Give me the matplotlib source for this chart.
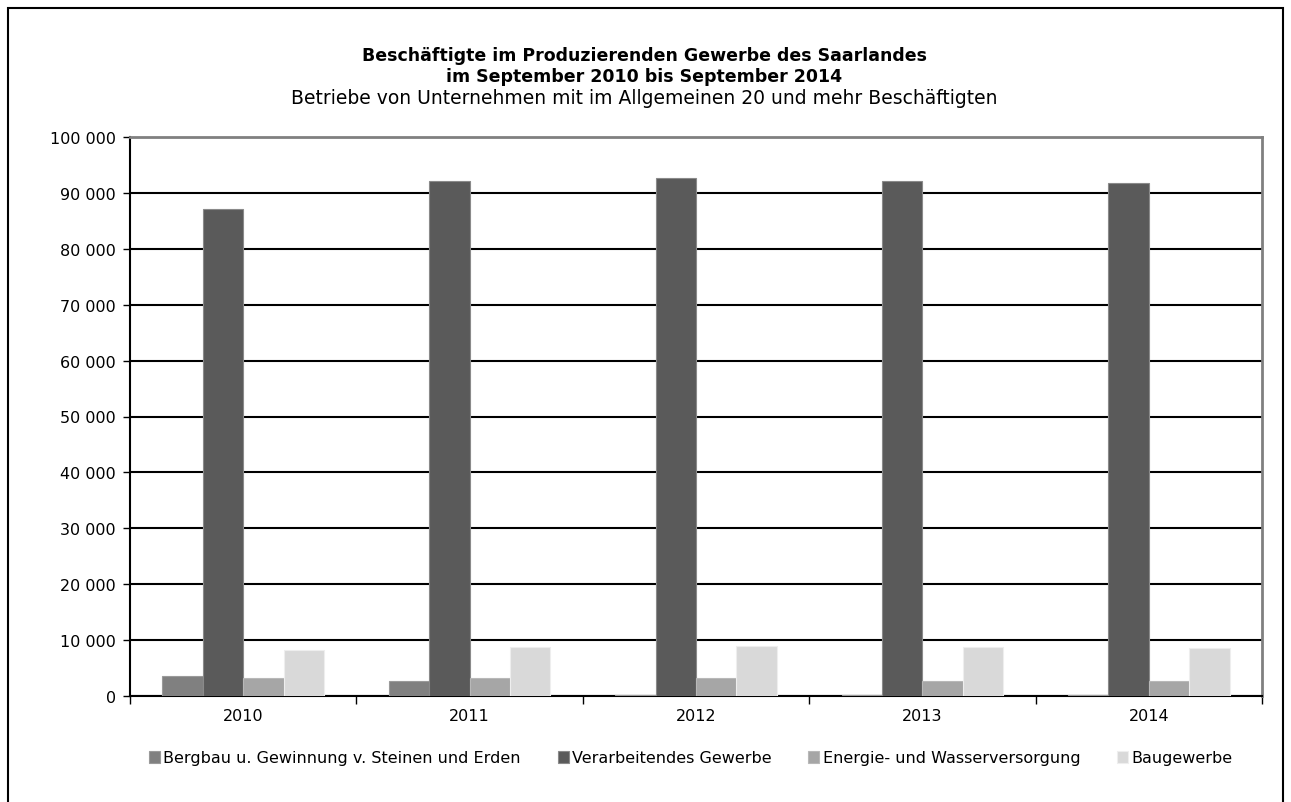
import matplotlib
matplotlib.use("Agg")
import matplotlib.pyplot as plt
from matplotlib.patches import Rectangle
from matplotlib.ticker import FuncFormatter, FixedLocator, MultipleLocator
import numpy as np

years = ["2010", "2011", "2012", "2013", "2014"]
series_names = ["Bergbau u. Gewinnung v. Steinen und Erden", "Verarbeitendes Gewerbe",
                "Energie- und Wasserversorgung", "Baugewerbe"]
bergbau = [3530, 2670, 150, 150, 150]
verarbeitend = [87200, 92200, 92700, 92150, 91800]
energie = [3220, 3160, 3160, 2730, 2670]
bau = [8250, 8730, 8980, 8850, 8620]
colors = ["#808080", "#5a5a5a", "#a6a6a6", "#d9d9d9"]
edges = ["#9a9a9a", "#8a8a8a", "#b8b8b8", "#eeeeee"]

plt.rcParams['font.family'] = ['DejaVu Sans']
fig = plt.figure(figsize=(12.91, 8.03), dpi=100)
W, H = 1291, 803
ax = fig.add_axes([130 / W, 1 - 697 / H, (1262 - 130) / W, (697 - 138) / H])

x = np.arange(len(years))
n = 4
bw = 1 / (n + 1.6)
data = [bergbau, verarbeitend, energie, bau]
for i, (vals, c, e, name) in enumerate(zip(data, colors, edges, series_names)):
    ax.bar(x + (i - (n - 1) / 2) * bw, vals, width=bw, color=c, edgecolor=e,
           linewidth=0.8, label=name, zorder=3)

ax.set_xlim(-0.5, len(years) - 0.5)
ax.set_ylim(0, 100000)
ax.yaxis.set_major_locator(MultipleLocator(10000))
ax.yaxis.set_major_formatter(FuncFormatter(lambda v, p: f"{int(v):,}".replace(",", " ")))
ax.grid(axis="y", color="black", linewidth=1.5, zorder=1)
ax.set_axisbelow(True)

ax.set_xticks(x)
ax.set_xticklabels(years)
ax.xaxis.set_minor_locator(FixedLocator(np.arange(-0.5, len(years), 1.0)))
ax.tick_params(axis="x", which="major", length=0, pad=9, labelsize=11.5)
ax.tick_params(axis="x", which="minor", length=6, width=1, color="black", direction="out")
ax.tick_params(axis="y", length=5, width=1, color="black", labelsize=11.5, pad=5)

for s in ["top", "right"]:
    ax.spines[s].set_color("#808080")
    ax.spines[s].set_linewidth(2)
ax.spines["left"].set_color("black")
ax.spines["left"].set_linewidth(1.5)
ax.spines["bottom"].set_color("black")
ax.spines["bottom"].set_linewidth(1.5)

fig.text(0.499, 1 - 56 / H, "Beschäftigte im Produzierenden Gewerbe des Saarlandes",
         ha="center", va="center", fontsize=12.5, fontweight="bold")
fig.text(0.499, 1 - 77 / H, "im September 2010 bis September 2014",
         ha="center", va="center", fontsize=12.5, fontweight="bold")
fig.text(0.499, 1 - 99 / H, "Betriebe von Unternehmen mit im Allgemeinen 20 und mehr Beschäftigten",
         ha="center", va="center", fontsize=13.5)

leg = fig.legend(loc="center", bbox_to_anchor=(0.535, 1 - 759 / H), ncol=4, frameon=False,
                 fontsize=11.5, handlelength=0.7, handleheight=0.7, handletextpad=0.2,
                 columnspacing=2.3)

fig.patches.append(Rectangle((8 / W, -0.05), (1283 - 8) / W, 1.05 - 9 / H,
                             transform=fig.transFigure, fill=False,
                             edgecolor="black", linewidth=1.5))

fig.savefig("out.png", dpi=100)
